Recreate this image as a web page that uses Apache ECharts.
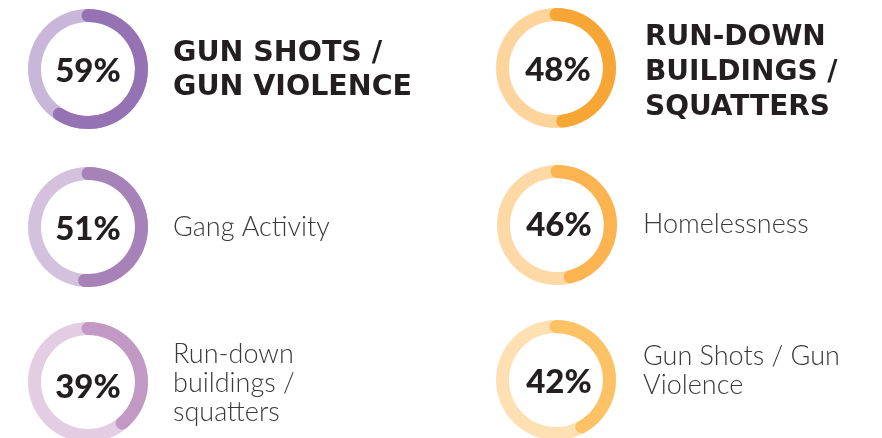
<!DOCTYPE html>
<html>
<head>
<meta charset="utf-8">
<script src="https://cdn.jsdelivr.net/npm/echarts@6/dist/echarts.min.js"></script>
<style>
html,body{margin:0;padding:0;background:#fff;}
#c{width:882px;height:438px;}
</style>
</head>
<body>
<div id="c"></div>
<script>
// ---- data ----
const categories = [
  'GUN SHOTS /\nGUN VIOLENCE',
  'RUN-DOWN\nBUILDINGS /\nSQUATTERS',
  'Gang Activity',
  'Homelessness',
  'Run-down\nbuildings /\nsquatters',
  'Gun Shots / Gun\nViolence'
];
const values = [59, 48, 51, 46, 39, 42];
const headline = [true, true, false, false, false, false];

// ---- styling / layout ----
const fgColors = ['#9472B4', '#F7A535', '#A682B9', '#FBB450', '#C199C4', '#FDC266'];
const bgColors = ['#C8B7D9', '#FDD49C', '#D3C1DE', '#FED9A6', '#E2CDE2', '#FEE0B3'];
const centers = [[88, 69], [556, 68], [88, 227], [557, 225], [88, 382], [556, 380]];
const labelOffsets = [[0, 2], [2, 2], [0, 2], [2, 0], [0, 5], [3, 2]];
const textPos = [[173, 37], [645, 20], [173, 213], [643, 210], [173, 340], [643, 342]];

const series = values.map((v, i) => ({
  type: 'gauge',
  center: centers[i],
  radius: 60,
  startAngle: 90,
  endAngle: -270,
  min: 0,
  max: 100,
  animation: false,
  axisLine: { lineStyle: { width: 13, color: [[1, bgColors[i]]] } },
  progress: { show: true, width: 13, roundCap: true, itemStyle: { color: fgColors[i] } },
  pointer: { show: false },
  anchor: { show: false },
  axisTick: { show: false },
  splitLine: { show: false },
  axisLabel: { show: false },
  title: { show: false },
  detail: {
    formatter: '{value}%',
    offsetCenter: labelOffsets[i],
    fontSize: 33,
    fontWeight: 900,
    fontFamily: 'Lato, Liberation Sans, Arial, sans-serif',
    color: '#231f20'
  },
  data: [{ value: v, name: categories[i] }]
}));

const titles = categories.map((t, i) => headline[i] ? {
  text: t,
  left: textPos[i][0],
  top: textPos[i][1],
  padding: 0,
  textStyle: {
    fontFamily: 'DejaVu Sans, sans-serif',
    fontWeight: 'bold',
    fontSize: i === 0 ? 28.5 : 28,
    lineHeight: i === 0 ? 34 : 35,
    color: '#231f20'
  }
} : {
  text: t,
  left: textPos[i][0],
  top: textPos[i][1],
  padding: 0,
  textStyle: {
    fontFamily: 'Lato, sans-serif',
    fontWeight: 300,
    fontSize: 27,
    lineHeight: 29,
    color: '#3a3a3a'
  }
});

const chart = echarts.init(document.getElementById('c'), null, { renderer: 'canvas' });
chart.setOption({
  backgroundColor: '#ffffff',
  animation: false,
  title: titles,
  series: series
});
</script>
</body>
</html>
